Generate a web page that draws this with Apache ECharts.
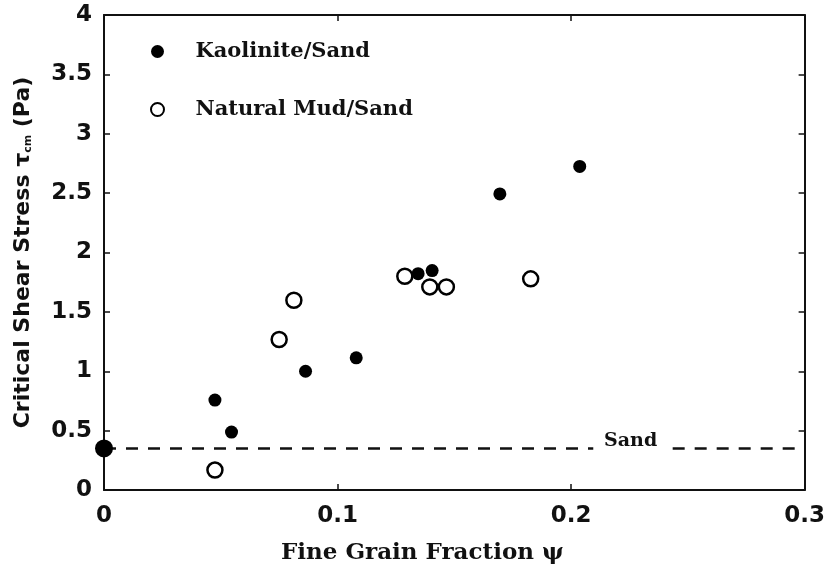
<!DOCTYPE html>
<html>
<head>
<meta charset="utf-8">
<script src="https://cdn.jsdelivr.net/npm/echarts@6/dist/echarts.min.js"></script>
<style>
html,body{margin:0;padding:0;background:#fff;}
#chart{width:828px;height:570px;}
</style>
</head>
<body>
<div id="chart"></div>
<script>
// ---- data ----
var kaoliniteX = [0.0475, 0.0546, 0.0863, 0.108, 0.1345, 0.1405, 0.1695, 0.2037];
var kaoliniteY = [0.757, 0.488, 1.0, 1.113, 1.822, 1.848, 2.493, 2.725];
var mudX = [0.0475, 0.075, 0.0813, 0.1288, 0.1395, 0.1466, 0.1827];
var mudY = [0.168, 1.267, 1.598, 1.80, 1.71, 1.71, 1.778];
var pureSandX = [0];
var pureSandY = [0.35];
var sandLevel = 0.35;
var sandLabel = 'Sand';
var sandLabelX = 0.2255;
var sandGap = [0.2095, 0.2435];
var xTicks = [0, 0.1, 0.2, 0.3];
var yTicks = [0, 0.5, 1, 1.5, 2, 2.5, 3, 3.5, 4];

function pairs(xs, ys) { return xs.map(function (x, i) { return [x, ys[i]]; }); }

var chart = echarts.init(document.getElementById('chart'));
var tickFont = { fontFamily: 'DejaVu Sans', fontWeight: 'bold', fontSize: 23, color: '#111' };
var axLine = { show: true, onZero: false, lineStyle: { color: '#111', width: 2 } };
var axTick = { show: true, inside: true, length: 6, lineStyle: { color: '#111', width: 1.5 } };

var option = {
  backgroundColor: '#fff',
  animation: false,
  grid: { left: 104, right: 23, top: 15, bottom: 79 },
  legend: {
    orient: 'vertical',
    left: 145,
    top: 36,
    itemGap: 37,
    itemWidth: 14,
    itemHeight: 13,
    data: ['Kaolinite/Sand', 'Natural Mud/Sand'],
    textStyle: { fontFamily: 'DejaVu Serif', fontWeight: 'bold', fontSize: 21, color: '#111', padding: [0, 0, 0, 26] }
  },
  xAxis: [{
    type: 'value', position: 'bottom', min: xTicks[0], max: xTicks[xTicks.length - 1], interval: 0.1,
    axisLine: axLine, axisTick: axTick, splitLine: { show: false },
    axisLabel: Object.assign({ margin: 15 }, tickFont),
    name: 'Fine Grain Fraction ψ', nameLocation: 'middle', nameGap: 52,
    nameTextStyle: { fontFamily: 'DejaVu Serif', fontWeight: 'bold', fontSize: 23, color: '#111', padding: [0, 64, 0, 0] }
  }, {
    type: 'value', position: 'top', min: xTicks[0], max: xTicks[xTicks.length - 1], interval: 0.1,
    axisLine: axLine, axisTick: axTick, splitLine: { show: false }, axisLabel: { show: false }
  }],
  yAxis: [{
    type: 'value', position: 'left', min: yTicks[0], max: yTicks[yTicks.length - 1], interval: 0.5,
    axisLine: axLine, axisTick: axTick, splitLine: { show: false },
    axisLabel: Object.assign({ margin: 12 }, tickFont),
    name: 'Critical Shear Stress τ{sub|cm} (Pa)', nameLocation: 'middle', nameGap: 70,
    nameTextStyle: {
      fontFamily: 'DejaVu Sans', fontWeight: 'bold', fontSize: 22, color: '#111',
      rich: { sub: { fontFamily: 'DejaVu Sans', fontWeight: 'bold', fontSize: 11, color: '#111', verticalAlign: 'bottom', padding: [9, 0, 0, 0] } }
    }
  }, {
    type: 'value', position: 'right', min: yTicks[0], max: yTicks[yTicks.length - 1], interval: 0.5,
    axisLine: axLine, axisTick: axTick, splitLine: { show: false }, axisLabel: { show: false }
  }],
  series: [{
    name: 'Sand',
    type: 'scatter',
    data: pairs(pureSandX, pureSandY),
    symbol: 'circle', symbolSize: 18, clip: false,
    itemStyle: { color: '#000', opacity: 1 },
    z: 5,
    markLine: {
      silent: true, symbol: 'none', label: { show: false },
      lineStyle: { color: '#111', width: 2.5, type: [12, 10] },
      data: [
        [{ coord: [xTicks[0], sandLevel] }, { coord: [sandGap[0], sandLevel] }],
        [{ coord: [sandGap[1], sandLevel] }, { coord: [xTicks[xTicks.length - 1], sandLevel] }]
      ]
    },
    markPoint: {
      silent: true, symbol: 'circle', symbolSize: 0,
      data: [{ coord: [sandLabelX, sandLevel], value: sandLabel }],
      label: { show: true, position: 'inside', offset: [0, -7], formatter: sandLabel,
        fontFamily: 'DejaVu Serif', fontWeight: 'bold', fontSize: 19, color: '#111' }
    }
  }, {
    name: 'Kaolinite/Sand',
    type: 'scatter',
    data: pairs(kaoliniteX, kaoliniteY),
    symbol: 'circle', symbolSize: 13,
    itemStyle: { color: '#000', opacity: 1 }
  }, {
    name: 'Natural Mud/Sand',
    type: 'scatter',
    data: pairs(mudX, mudY),
    symbol: 'circle', symbolSize: 15,
    itemStyle: { color: '#fff', borderColor: '#000', borderWidth: 2.5, opacity: 1 }
  }]
};
chart.setOption(option);
</script>
</body>
</html>
